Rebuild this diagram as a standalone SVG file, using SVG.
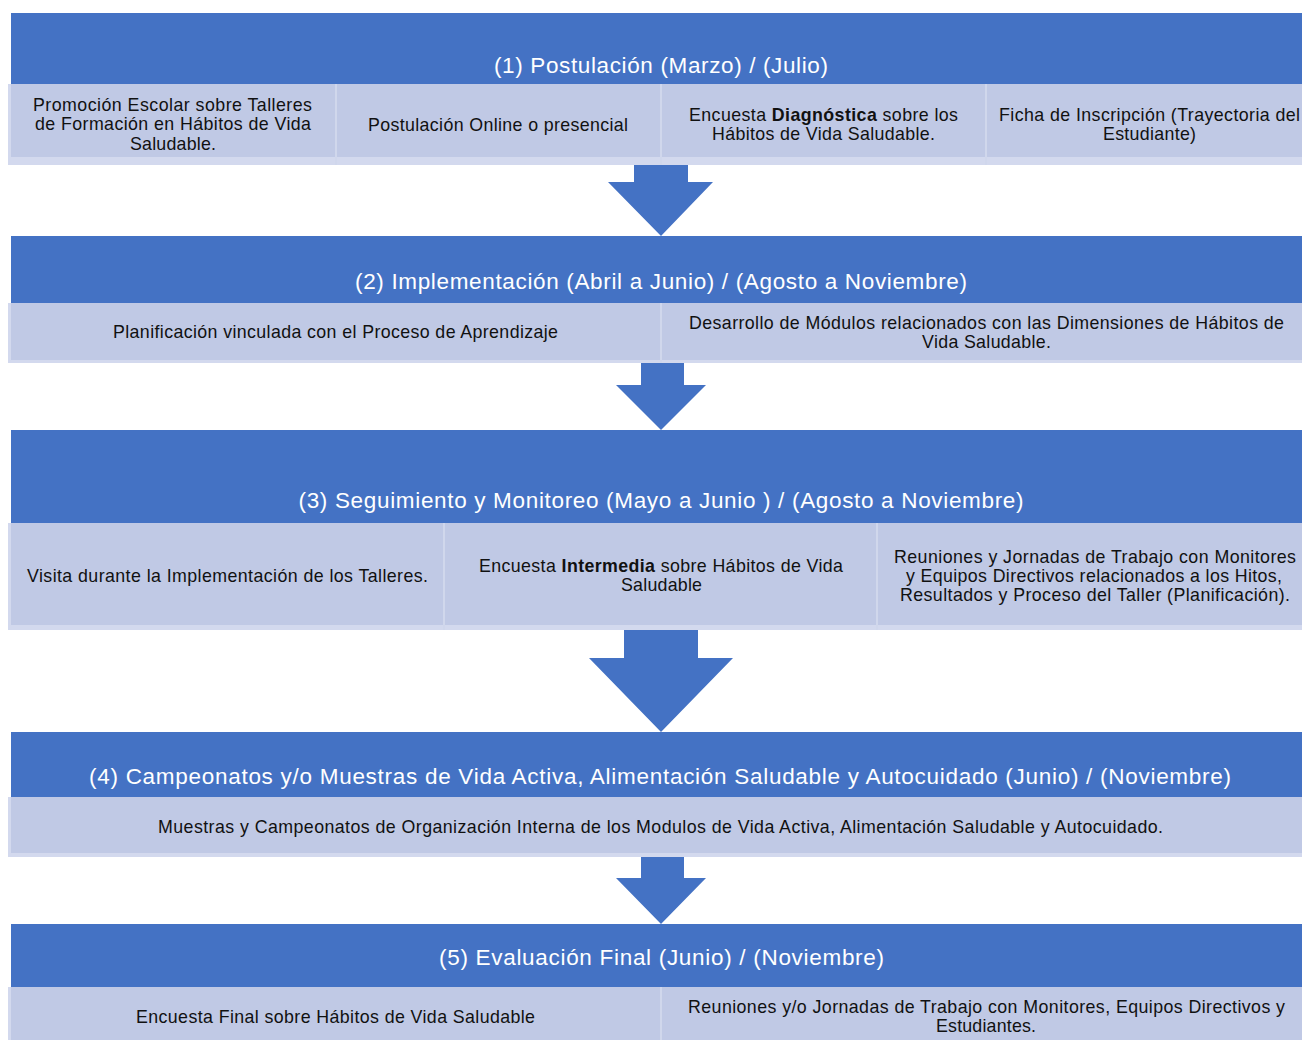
<svg xmlns="http://www.w3.org/2000/svg" width="1302" height="1040" viewBox="0 0 1302 1040">
<defs>
<style>
.hdr{fill:#4472C4}
.cell{fill:#C0C9E5}
.strip{fill:#D3D9EE}
.edge{fill:#D3D9EE}
.sep{stroke:#D0D7EC;stroke-width:2}
.arrow{fill:#4472C4}
.ht{font-family:"Liberation Sans",Arial,sans-serif;font-size:22.5px;fill:#FFFFFF;text-anchor:middle}
.bt{font-family:"Liberation Sans",Arial,sans-serif;font-size:17.8px;fill:#111111;text-anchor:middle}
.b{font-weight:bold}
</style>
</defs>
<rect width="1302" height="1040" fill="#FFFFFF"/>

<g id="connectors">
<polygon class="arrow" points="634,163 688,163 688,182 713,182 661,236 608,182 634,182"/>
<polygon class="arrow" points="641,360 684,360 684,385 706,385 661,430 616,385 641,385"/>
<polygon class="arrow" points="624,628 698,628 698,658 733,658 661,732 589,658 624,658"/>
<polygon class="arrow" points="641,855 684,855 684,878 706,878 661,924 616,878 641,878"/>
</g>

<g id="stage1">
<rect class="hdr" x="11" y="13" width="1291" height="71"/>
<text class="ht" x="661" y="73" textLength="334">(1) Postulación (Marzo) / (Julio)</text>
<rect class="cell" x="8" y="84" width="1294" height="73"/>
<rect class="strip" x="8" y="157" width="1294" height="8"/>
<rect class="edge" x="8" y="84" width="3" height="81"/>
<line class="sep" x1="336" y1="84" x2="336" y2="165"/>
<line class="sep" x1="661" y1="84" x2="661" y2="165"/>
<line class="sep" x1="986" y1="84" x2="986" y2="165"/>
<g id="s1c1">
<text class="bt" x="172.5" y="110.5" textLength="279">Promoción Escolar sobre Talleres</text>
<text class="bt" x="173" y="130" textLength="276">de Formación en Hábitos de Vida</text>
<text class="bt" x="173" y="149.5" textLength="86">Saludable.</text>
</g>
<g id="s1c2">
<text class="bt" x="498" y="130.5" textLength="260">Postulación Online o presencial</text>
</g>
<g id="s1c3">
<text class="bt" x="823.5" y="120.5" textLength="269">Encuesta <tspan class="b">Diagnóstica</tspan> sobre los</text>
<text class="bt" x="823.5" y="140" textLength="223">Hábitos de Vida Saludable.</text>
</g>
<g id="s1c4">
<text class="bt" x="1149.5" y="120.5" textLength="301">Ficha de Inscripción (Trayectoria del</text>
<text class="bt" x="1149.5" y="140" textLength="93">Estudiante)</text>
</g>
</g>

<g id="stage2">
<rect class="hdr" x="11" y="236" width="1291" height="67"/>
<text class="ht" x="661" y="289" textLength="612">(2) Implementación (Abril a Junio) / (Agosto a Noviembre)</text>
<rect class="cell" x="8" y="303" width="1294" height="57"/>
<rect class="strip" x="8" y="360" width="1294" height="3"/>
<rect class="edge" x="8" y="303" width="3" height="60"/>
<line class="sep" x1="661" y1="303" x2="661" y2="363"/>
<g id="s2c1">
<text class="bt" x="335.5" y="338" textLength="445">Planificación vinculada con el Proceso de Aprendizaje</text>
</g>
<g id="s2c2">
<text class="bt" x="986.5" y="328.5" textLength="595">Desarrollo de Módulos relacionados con las Dimensiones de Hábitos de</text>
<text class="bt" x="986.5" y="347.5" textLength="129">Vida Saludable.</text>
</g>
</g>

<g id="stage3">
<rect class="hdr" x="11" y="430" width="1291" height="93"/>
<text class="ht" x="661" y="508" textLength="725">(3) Seguimiento y Monitoreo (Mayo a Junio ) / (Agosto a Noviembre)</text>
<rect class="cell" x="8" y="523" width="1294" height="102"/>
<rect class="strip" x="8" y="625" width="1294" height="5"/>
<rect class="edge" x="8" y="523" width="3" height="107"/>
<line class="sep" x1="444" y1="523" x2="444" y2="630"/>
<line class="sep" x1="877" y1="523" x2="877" y2="630"/>
<g id="s3c1">
<text class="bt" x="227.5" y="582" textLength="401">Visita durante la Implementación de los Talleres.</text>
</g>
<g id="s3c2">
<text class="bt" x="661" y="572" textLength="364">Encuesta <tspan class="b">Intermedia</tspan> sobre Hábitos de Vida</text>
<text class="bt" x="661.5" y="591" textLength="81">Saludable</text>
</g>
<g id="s3c3">
<text class="bt" x="1095" y="563" textLength="402">Reuniones y Jornadas de Trabajo con Monitores</text>
<text class="bt" x="1094" y="582" textLength="376">y Equipos Directivos relacionados a los Hitos,</text>
<text class="bt" x="1095" y="601" textLength="390">Resultados y Proceso del Taller (Planificación).</text>
</g>
</g>

<g id="stage4">
<rect class="hdr" x="11" y="732" width="1291" height="65"/>
<text class="ht" x="660" y="784" textLength="1142">(4) Campeonatos y/o Muestras de Vida Activa, Alimentación Saludable y Autocuidado (Junio) / (Noviembre)</text>
<rect class="cell" x="8" y="797" width="1294" height="56"/>
<rect class="strip" x="8" y="853" width="1294" height="4"/>
<rect class="edge" x="8" y="797" width="3" height="60"/>
<g id="s4c1">
<text class="bt" x="660.5" y="833" textLength="1005">Muestras y Campeonatos de Organización Interna de los Modulos de Vida Activa, Alimentación Saludable y Autocuidado.</text>
</g>
</g>

<g id="stage5">
<rect class="hdr" x="11" y="924" width="1291" height="63"/>
<text class="ht" x="661.5" y="965" textLength="445">(5) Evaluación Final (Junio) / (Noviembre)</text>
<rect class="cell" x="8" y="987" width="1294" height="53"/>
<rect class="edge" x="8" y="987" width="3" height="53"/>
<line class="sep" x1="661" y1="987" x2="661" y2="1040"/>
<g id="s5c1">
<text class="bt" x="335.5" y="1023" textLength="399">Encuesta Final sobre Hábitos de Vida Saludable</text>
</g>
<g id="s5c2">
<text class="bt" x="986.5" y="1013" textLength="597">Reuniones y/o Jornadas de Trabajo con Monitores, Equipos Directivos y</text>
<text class="bt" x="986" y="1032" textLength="100">Estudiantes.</text>
</g>
</g>
</svg>
